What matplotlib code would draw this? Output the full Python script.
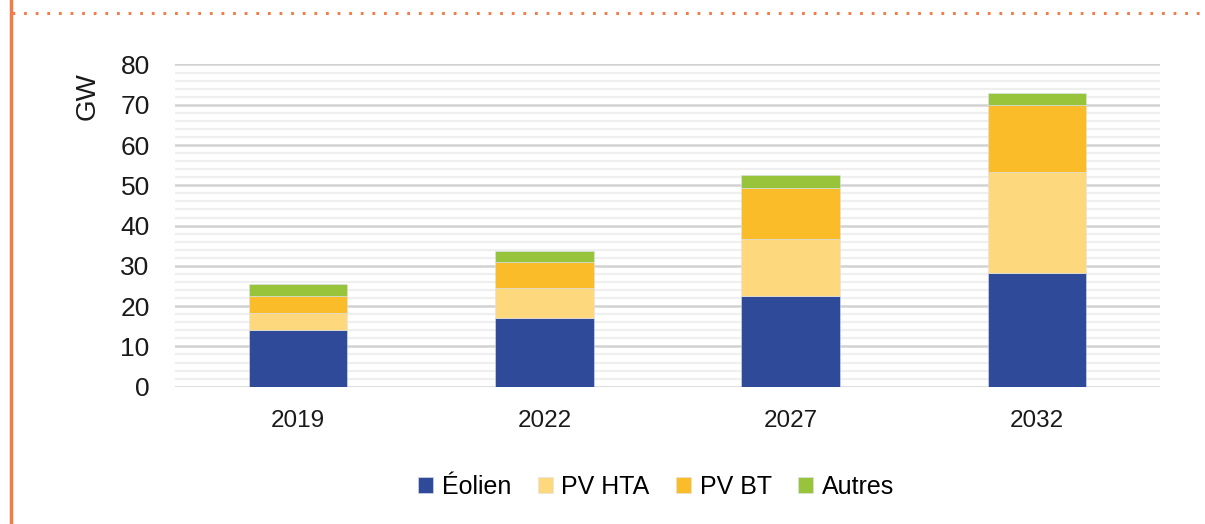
import numpy as np, matplotlib
matplotlib.use('Agg')
import matplotlib.pyplot as plt
from matplotlib.lines import Line2D
from matplotlib.ticker import MultipleLocator

BLUE = '#2E4A99'; LIGHT = '#FED87C'; ORANGE = '#FBBC2A'; GREEN = '#98C43C'; FRAME = '#F47B48'
plt.rcParams.update({'font.family': ['Liberation Sans', 'DejaVu Sans'], 'font.size': 16})

years = ['2019', '2022', '2027', '2032']
eolien = [14.2, 17.1, 22.5, 28.3]
pv_hta = [4.1, 7.4, 14.1, 25.0]
pv_bt = [4.3, 6.4, 12.7, 16.6]
autres = [3.0, 2.8, 3.2, 3.1]
series = [('Éolien', eolien, BLUE), ('PV HTA', pv_hta, LIGHT), ('PV BT', pv_bt, ORANGE), ('Autres', autres, GREEN)]

fig = plt.figure(figsize=(12.05, 5.24), dpi=100)
ax = fig.add_axes([0.145, 0.262, 0.818, 0.615])

x = np.arange(len(years))
bottom = np.zeros(len(years))
for name, vals, col in series:
    ax.bar(x, vals, 0.4, bottom=bottom, color=col, label=name, zorder=3,
           edgecolor='#DDE3F0', linewidth=0.4)
    bottom += np.array(vals)

ax.set_ylim(0, 80); ax.set_xlim(-0.5, len(years) - 0.5)
ax.yaxis.set_major_locator(MultipleLocator(10))
ax.yaxis.set_minor_locator(MultipleLocator(2))
ax.grid(axis='y', which='major', color='#D2D2D2', linewidth=1.8, zorder=0)
ax.grid(axis='y', which='minor', color='#EFEFEF', linewidth=1.6, zorder=0)
ax.set_axisbelow(True)
for s in ax.spines.values():
    s.set_visible(False)
ax.tick_params(axis='both', which='both', length=0, colors='#1a1a1a')
ax.tick_params(axis='y', labelsize=19, pad=18)
ax.tick_params(axis='x', labelsize=17.5, pad=17)
ax.set_xticks(x); ax.set_xticklabels(years)

fig.text(88 / 1205, 1 - 96 / 524, 'GW', rotation=90, ha='center', va='center', fontsize=20, color='#1a1a1a')

leg = fig.legend(loc='center', bbox_to_anchor=(656 / 1205, 1 - 487 / 524), ncol=4, frameon=False,
                 fontsize=18, handlelength=0.6, handleheight=0.6, handletextpad=0.35, columnspacing=1.05)

# decorative orange frame
fig.add_artist(Line2D([10.5 / 1205, 10.5 / 1205], [0, 1], color=FRAME, linewidth=2.5, transform=fig.transFigure))
fig.add_artist(Line2D([12 / 1205, 1], [1 - 12.7 / 524, 1 - 12.7 / 524], color=FRAME, linewidth=2.2,
                      linestyle=(0, (0.9, 2.9)), transform=fig.transFigure))

plt.savefig('out.png', dpi=100)
